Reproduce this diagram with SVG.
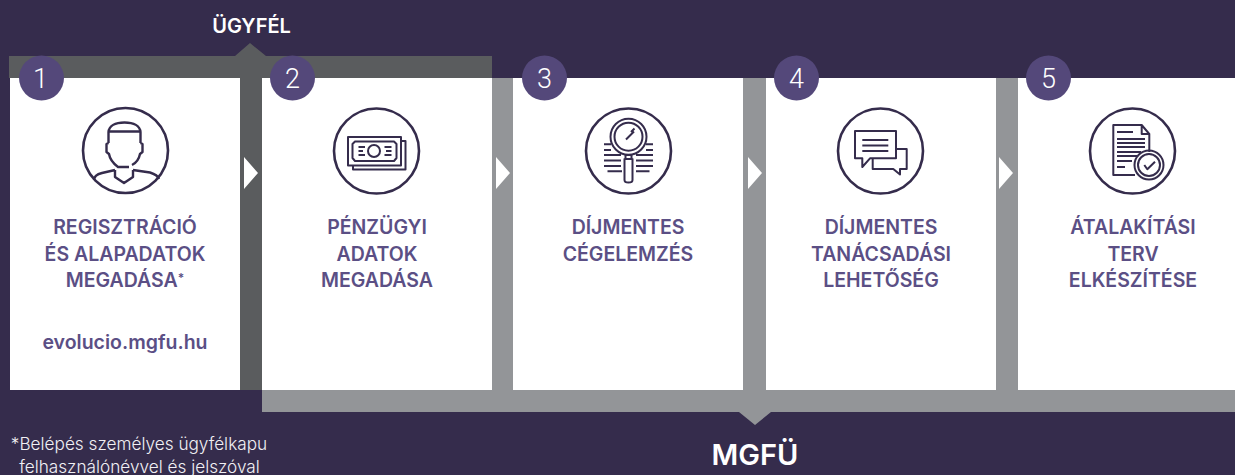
<svg xmlns="http://www.w3.org/2000/svg" width="1235" height="475" viewBox="0 0 1235 475">
<defs><style>
.lbl{font:600 19.500px Inter,"Liberation Sans",sans-serif;fill:#5b4f85;text-anchor:middle}
.num{font:300 27px Roboto,"Liberation Sans",sans-serif;fill:#fff;text-anchor:middle}
.badge{fill:#54487a}
.ring{fill:#fff;stroke:#352c4c;stroke-width:2.6}
.ic{fill:none;stroke:#352c4c;stroke-width:2;stroke-linejoin:round}
.card{fill:#fff}
.hd{font-family:Inter,"Liberation Sans",sans-serif;fill:#fff;text-anchor:middle}
</style></defs>
<rect width="1235" height="475" fill="#352c4c"/>
<g id="connectors">
<path fill="#939598" d="M262 390H492V78H513V390H743V78H766V390H996V78H1018V390H1235V412H771L755 425L739 412H262Z"/>
<path fill="#5a5c5e" d="M9 56H235L250 43L266 56H492V78H262V390H240V78H9Z"/>
<path fill="#fff" d="M244 157L258 173L244 189ZM496 157L510 173L496 189ZM748 157L762 173L748 189ZM999 157L1013 173L999 189Z"/>
</g>
<text id="ugyfel" class="hd" x="251.500" y="33" font-size="20" font-weight="600">ÜGYFÉL</text>
<g id="node1">
<rect class="card" x="10" y="78" width="230" height="312"/>
<circle class="badge" cx="41.5" cy="78" r="22.5"/><text class="num" x="40.500" y="88">1</text>
<circle class="ring" cx="125.5" cy="150.5" r="42.5"/>
<path class="ic" style="stroke-width:2.400" d="M108.500 143V132C109 126 115 122.500 124.500 122.500S140 126 140.500 132V143M109 131.500H140M108.500 143L106.500 144V152L109 154C110 160 114 164 118 167H129M140.500 143L142.500 144V152L140 154C139 159 136 163 132 165M115 170V177L124 183L133 177V170M94 180C94 176 98 174 102 173L115 170M133 170L150 172.500C155 174 158 176 159 179"/>
<text class="lbl" x="125" y="234">REGISZTRÁCIÓ</text>
<text class="lbl" x="125" y="260.500">ÉS ALAPADATOK</text>
<text class="lbl" x="125" y="287">MEGADÁSA<tspan font-size="12" dy="-5">*</tspan></text>
<text class="lbl" x="125" y="349">evolucio.mgfu.hu</text>
</g>
<g id="node2">
<rect class="card" x="262" y="78" width="230" height="312"/>
<circle class="badge" cx="292.5" cy="78" r="22.5"/><text class="num" x="292.5" y="88">2</text>
<circle class="ring" cx="376.5" cy="151" r="42.5"/>
<path class="ic" d="M348 137H401V165.500H348ZM401 141H405.500V169.500H353V165.500M355 141.500H394L396.500 144V158L394 161H355L352.500 158V144ZM358.500 147H365M358.500 151H363M358.500 155H365M384.500 147H391.500M386 151H391.500M384.500 155H391.500"/>
<circle class="ic" cx="374" cy="151" r="6"/>
<text class="lbl" x="377" y="234">PÉNZÜGYI</text>
<text class="lbl" x="377" y="260.500">ADATOK</text>
<text class="lbl" x="377" y="287">MEGADÁSA</text>
</g>
<g id="node3">
<rect class="card" x="513" y="78" width="230" height="312"/>
<circle class="badge" cx="544.500" cy="78" r="22.5"/><text class="num" x="544.500" y="88">3</text>
<circle class="ring" cx="628.500" cy="151" r="42.500"/>
<circle class="ic" cx="628.500" cy="136.700" r="18"/><circle class="ic" cx="628.500" cy="136.700" r="14"/>
<path class="ic" d="M625.500 155H631.500V159H625.500ZM624.500 159H632.500V180Q632.500 182.500 628.500 182.500T624.500 180ZM626 139.500L634 131.500M631 132L634.500 128.500M604 144.300H611M646 144.300H653M604 150H611M646 150H653M604 155H621M636 155H653M604 160.500H621M636 160.500H653M604 166H621M636 166H653M607.500 171.300H622M636 171.300H649.500"/>
<text class="lbl" x="628" y="234">DÍJMENTES</text>
<text class="lbl" x="628" y="260.500">CÉGELEMZÉS</text>
</g>
<g id="node4">
<rect class="card" x="766" y="78" width="230" height="312"/>
<circle class="badge" cx="796.500" cy="78" r="22.5"/><text class="num" x="796.500" y="88">4</text>
<circle class="ring" cx="880.500" cy="151" r="42.500"/>
<path class="ic" d="M855 131H896V158.300H870L862.300 167V158.300H855ZM896 149H906.700V169H900V174.500L893.300 169H872.700V158.300M862.300 140H888.300M862.300 145.500H888.300M862.300 151H888.300"/>
<text class="lbl" x="881" y="234">DÍJMENTES</text>
<text class="lbl" x="881" y="260.500">TANÁCSADÁSI</text>
<text class="lbl" x="881" y="287">LEHETŐSÉG</text>
</g>
<g id="node5">
<rect class="card" x="1018" y="78" width="217" height="312"/>
<circle class="badge" cx="1048.500" cy="78" r="22.5"/><text class="num" x="1048.500" y="88">5</text>
<circle class="ring" cx="1132.500" cy="151" r="42.500"/>
<path class="ic" d="M1149.300 152V134L1141.700 125H1113.300V175H1135M1141.700 125V134H1149.300M1117 132H1133M1117 139H1145M1117 143H1145M1117 147H1145M1117 152H1141M1117 156H1137M1117 161H1132M1117 167H1125M1144.300 165L1147.300 169.300L1155 161.700"/>
<circle class="ic" cx="1149" cy="165" r="14.500"/><circle class="ic" cx="1149" cy="165" r="11"/>
<text class="lbl" x="1133" y="234">ÁTALAKÍTÁSI</text>
<text class="lbl" x="1133" y="260.500">TERV</text>
<text class="lbl" x="1133" y="287">ELKÉSZÍTÉSE</text>
</g>
<text id="note" font-family="Inter,'Liberation Sans',sans-serif" font-size="17.200" font-weight="300" fill="#f1f0f4" text-anchor="middle"><tspan x="139" y="450">*Belépés személyes ügyfélkapu</tspan><tspan x="139.500" y="473">felhasználónévvel és jelszóval</tspan></text>
<text id="mgfu" class="hd" x="755" y="465" font-size="29" font-weight="600">MGFÜ</text>
</svg>
